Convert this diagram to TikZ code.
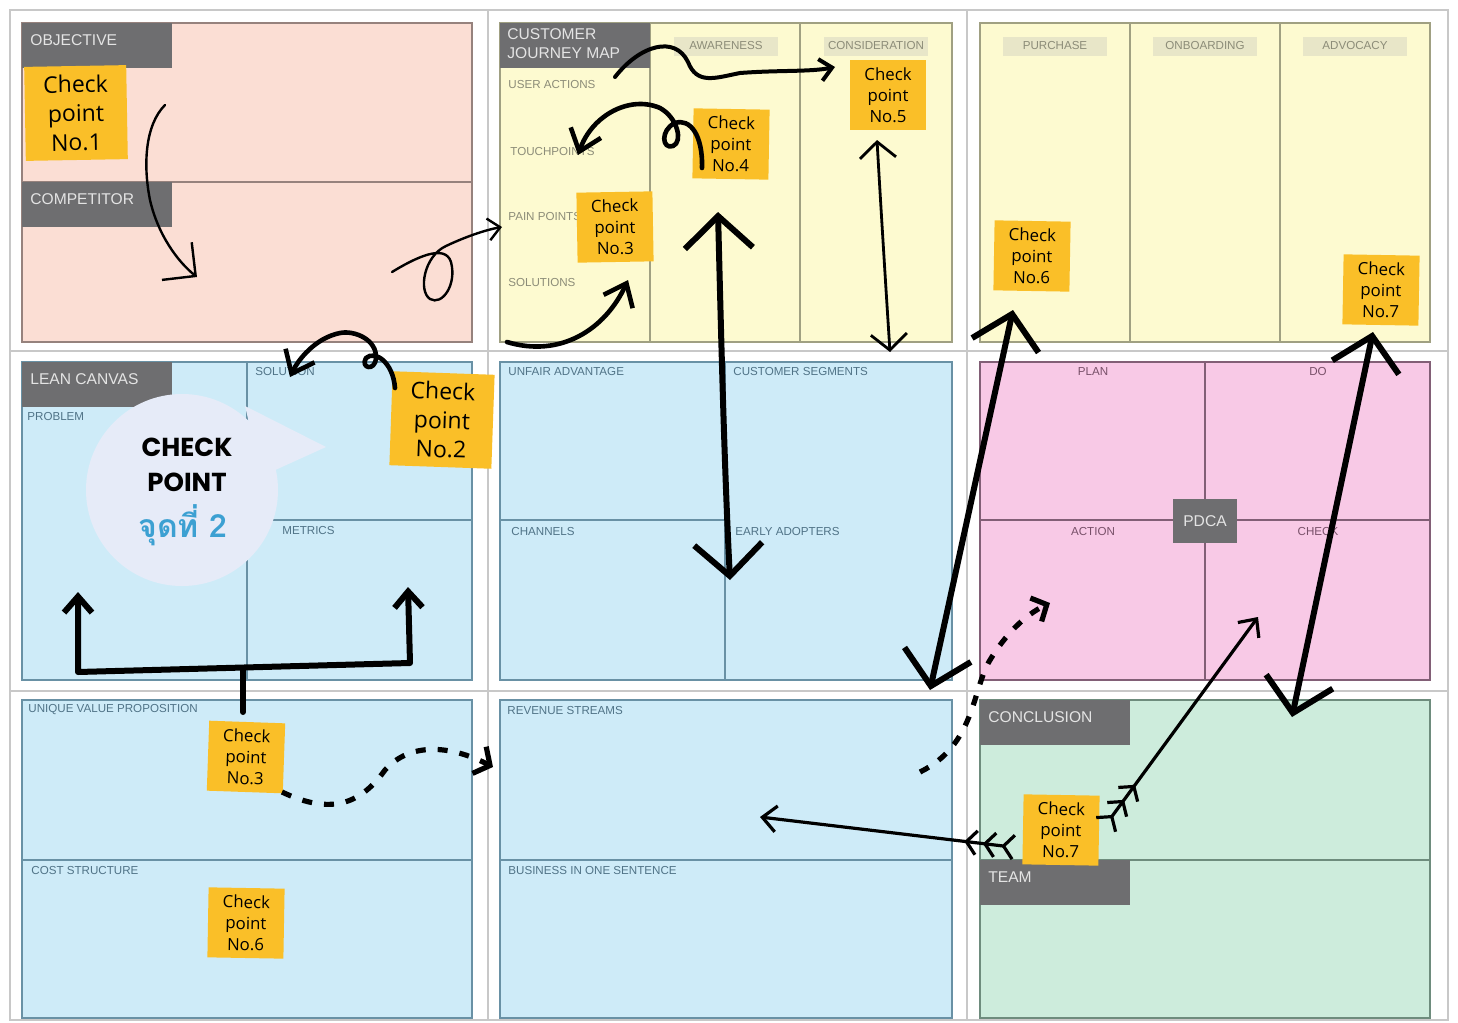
\documentclass[tikz,border=0pt]{standalone}
\usepackage{fontspec}
\setmainfont{Liberation Sans}
\newfontfamily\notefont{Open Sans}
\newfontfamily\handfont{Poppins}
\newfontfamily\thaifont[Script=Thai]{Loma}
\usetikzlibrary{arrows.meta,calc}
\definecolor{GridClr}{RGB}{200,200,200}
\definecolor{ObjClr}{RGB}{251,222,212}
\definecolor{ObjLine}{RGB}{150,130,125}
\definecolor{JrnClr}{RGB}{253,250,208}
\definecolor{JrnLine}{RGB}{160,160,130}
\definecolor{JrnTxt}{RGB}{140,140,120}
\definecolor{PillClr}{RGB}{232,230,200}
\definecolor{LeanClr}{RGB}{206,235,248}
\definecolor{LeanLine}{RGB}{105,145,165}
\definecolor{LeanTxt}{RGB}{80,115,135}
\definecolor{PdcaClr}{RGB}{248,201,230}
\definecolor{PdcaLine}{RGB}{130,95,118}
\definecolor{PdcaTxt}{RGB}{120,80,105}
\definecolor{EndClr}{RGB}{205,236,220}
\definecolor{EndLine}{RGB}{110,140,125}
\definecolor{TagClr}{RGB}{110,110,112}
\definecolor{TagTxt}{RGB}{228,228,228}
\definecolor{NoteClr}{RGB}{250,191,40}
\definecolor{BubbleClr}{RGB}{230,235,248}
\definecolor{ThaiClr}{RGB}{60,160,210}

\begin{document}
\begin{tikzpicture}[x=0.5pt,y=-0.5pt,
  tag/.style={anchor=west,text=TagTxt,inner sep=0pt,font=\fontsize{7.8}{9.5}\selectfont},
  lbl/.style={anchor=west,inner sep=0pt,font=\fontsize{5.8}{6}\selectfont},
  clbl/.style={inner sep=0pt,text=PdcaTxt,font=\fontsize{5.8}{6}\selectfont},
  pill/.style={fill=PillClr,text=JrnTxt,inner sep=0pt,minimum width=52pt,minimum height=9.5pt,font=\fontsize{5.8}{6}\selectfont},
  bignote/.style={fill=NoteClr,align=center,inner sep=0pt,minimum width=51pt,minimum height=47pt,font=\notefont\fontsize{11.5}{14.5}\selectfont},
  note/.style={fill=NoteClr,align=center,inner sep=0pt,minimum width=38pt,minimum height=35pt,font=\notefont\fontsize{8.4}{10.6}\selectfont},
  thinpen/.style={line width=1.2pt,line cap=round,line join=round},
  pen/.style={line width=2.3pt,line cap=round,line join=round},
  bigpen/.style={line width=3pt,line cap=round,line join=round},
  dashpen/.style={line width=2.6pt,dash pattern=on 5pt off 6pt},
  featherpen/.style={line width=1.6pt,line cap=round,line join=round},
  bigtip/.tip={Straight Barb[length=16pt,width=34pt]},
  midtip/.tip={Straight Barb[length=10pt,width=16pt]},
  smalltip/.tip={Straight Barb[length=6pt,width=11pt]},
  fletch/.tip={Straight Barb[reversed,length=5pt,width=12pt,sep=2.5pt]}]

\useasboundingbox (0,0) rectangle (1458,1023);
\fill[white] (0,0) rectangle (1458,1023);

\draw[GridClr,line width=1pt] (10,10) rectangle (1448,1020);
\draw[GridClr,line width=1pt] (488,10) -- (488,1020) (967,10) -- (967,1020);
\draw[GridClr,line width=1pt] (10,351) -- (1448,351) (10,691) -- (1448,691);

\draw[fill=ObjClr,draw=ObjLine,line width=0.7pt] (22,23) rectangle (472,342);
\draw[ObjLine,line width=0.7pt] (22,182) -- (472,182);
\fill[TagClr] (22,23) rectangle (172,68);
\fill[TagClr] (22,182) rectangle (172,227);
\node[tag] (tObj) at (30,40) {OBJECTIVE};
\node[tag] (tComp) at (30,199) {COMPETITOR};

\draw[fill=JrnClr,draw=JrnLine,line width=0.7pt] (500,23) rectangle (952,342);
\draw[JrnLine,line width=0.7pt] (650,23) -- (650,342) (800,23) -- (800,342);
\fill[TagClr] (500,23) rectangle (650,68);
\node[tag,align=left,anchor=north west] (tJrn) at (507,28) {CUSTOMER\\JOURNEY MAP};
\node[lbl,text=JrnTxt] (lUser) at (508,85) {USER ACTIONS};
\node[lbl,text=JrnTxt] (lTouch) at (510,152) {TOUCHPOINTS};
\node[lbl,text=JrnTxt] (lPain) at (508,217) {PAIN POINTS};
\node[lbl,text=JrnTxt] (lSol) at (508,283) {SOLUTIONS};
\node[pill] (hAware) at (726,46) {AWARENESS};
\node[pill] (hCons) at (876,46) {CONSIDERATION};

\draw[fill=JrnClr,draw=JrnLine,line width=0.7pt] (980,23) rectangle (1430,342);
\draw[JrnLine,line width=0.7pt] (1130,23) -- (1130,342) (1280,23) -- (1280,342);
\node[pill] (hPurch) at (1055,46) {PURCHASE};
\node[pill] (hOnb) at (1205,46) {ONBOARDING};
\node[pill] (hAdv) at (1355,46) {ADVOCACY};

\draw[fill=LeanClr,draw=LeanLine,line width=0.7pt] (22,362) rectangle (472,680);
\draw[LeanLine,line width=0.7pt] (247,362) -- (247,680) (247,520) -- (472,520);
\fill[TagClr] (22,362) rectangle (172,407);
\node[tag] (tLean) at (30,379) {LEAN CANVAS};
\node[lbl,text=LeanTxt] (lProb) at (27,417) {PROBLEM};
\node[lbl,text=LeanTxt] (lSolu) at (255,372) {SOLUTION};
\node[lbl,text=LeanTxt] (lMetr) at (282,530) {METRICS};

\draw[fill=LeanClr,draw=LeanLine,line width=0.7pt] (500,362) rectangle (952,680);
\draw[LeanLine,line width=0.7pt] (725,362) -- (725,680) (500,520) -- (725,520);
\node[lbl,text=LeanTxt] (lUnf) at (508,372) {UNFAIR ADVANTAGE};
\node[lbl,text=LeanTxt] (lSeg) at (733,372) {CUSTOMER SEGMENTS};
\node[lbl,text=LeanTxt] (lChan) at (511,531) {CHANNELS};
\node[lbl,text=LeanTxt] (lEarly) at (735,531) {EARLY ADOPTERS};

\draw[fill=PdcaClr,draw=PdcaLine,line width=0.7pt] (980,362) rectangle (1430,680);
\draw[PdcaLine,line width=0.7pt] (1205,362) -- (1205,680) (980,520) -- (1430,520);
\node[clbl] (lPlan) at (1093,372) {PLAN};
\node[clbl] (lDo) at (1318,372) {DO};
\node[clbl] (lAct) at (1093,531) {ACTION};
\node[clbl] (lChk) at (1318,531) {CHECK};
\node[fill=TagClr,text=TagTxt,minimum width=32pt,minimum height=22pt,inner sep=0pt,font=\fontsize{7.8}{9}\selectfont] (pdca) at (1205,521) {PDCA};

\draw[fill=LeanClr,draw=LeanLine,line width=0.7pt] (22,700) rectangle (472,1018);
\draw[LeanLine,line width=0.7pt] (22,860) -- (472,860);
\node[lbl,text=LeanTxt] (lUvp) at (28,710) {UNIQUE VALUE PROPOSITION};
\node[lbl,text=LeanTxt] (lCost) at (31,870) {COST STRUCTURE};

\draw[fill=LeanClr,draw=LeanLine,line width=0.7pt] (500,700) rectangle (952,1018);
\draw[LeanLine,line width=0.7pt] (500,860) -- (952,860);
\node[lbl,text=LeanTxt] (lRev) at (507,710) {REVENUE STREAMS};
\node[lbl,text=LeanTxt] (lBiz) at (508,870) {BUSINESS IN ONE SENTENCE};

\draw[fill=EndClr,draw=EndLine,line width=0.7pt] (980,700) rectangle (1430,1018);
\draw[EndLine,line width=0.7pt] (980,860) -- (1430,860);
\fill[TagClr] (980,700) rectangle (1130,745);
\fill[TagClr] (980,860) rectangle (1130,905);
\node[tag] (tConc) at (988,717) {CONCLUSION};
\node[tag] (tTeam) at (988,877) {TEAM};

\fill[BubbleClr] (182,490) circle[radius=48pt];
\fill[BubbleClr] (245,406) -- (326,447) -- (262,476) -- cycle;
\node[font=\handfont\bfseries\fontsize{13}{16}\selectfont,inner sep=0pt] (bCheck) at (187,447) {CHECK};
\node[font=\handfont\bfseries\fontsize{13}{16}\selectfont,inner sep=0pt] (bPoint) at (187,482) {POINT};
\node[font=\thaifont\bfseries\fontsize{16}{18}\selectfont,text=ThaiClr,inner sep=0pt] (bThai) at (183,525) {จุดที่ 2};

\node[bignote,rotate=1] (cp1) at (76,113) {Check\\point\\No.1};
\node[bignote,rotate=-2] (cp2) at (442,420) {Check\\point\\No.2};
\node[note,rotate=1] (cp3) at (615,227) {Check\\point\\No.3};
\node[note,rotate=-1] (cp4) at (731,144) {Check\\point\\No.4};
\node[note] (cp5) at (888,95) {Check\\point\\No.5};
\node[note,rotate=-1] (cp6) at (1032,256) {Check\\point\\No.6};
\node[note,rotate=-1] (cp7) at (1381,290) {Check\\point\\No.7};
\node[note,rotate=-2] (cp8) at (246,757) {Check\\point\\No.3};
\node[note,rotate=-1] (cp9) at (246,923) {Check\\point\\No.6};
\node[note,rotate=-1] (cp10) at (1061,830) {Check\\point\\No.7};

\coordinate (o1) at (165,105);
\coordinate (o2) at (197,277);
\coordinate (l1) at (392,272);
\coordinate (l2) at (502,227);
\coordinate (s1) at (507,342);
\coordinate (s2) at (628,280);
\coordinate (w1) at (615,77);
\coordinate (w2) at (835,67);
\coordinate (c1) at (702,168);
\coordinate (c2) at (578,155);
\coordinate (v1) at (718,212);
\coordinate (v2) at (730,580);
\coordinate (d1) at (877,140);
\coordinate (d2) at (890,352);
\coordinate (p1) at (1013,310);
\coordinate (p2) at (930,690);
\coordinate (q1) at (1373,332);
\coordinate (q2) at (1292,717);
\coordinate (b1) at (395,388);
\coordinate (b2) at (290,377);
\coordinate (h1) at (282,792);
\coordinate (h2) at (493,767);
\coordinate (k1) at (920,772);
\coordinate (k2) at (1050,603);
\coordinate (m1) at (1020,848);
\coordinate (m2) at (760,817);
\coordinate (n1) at (1102,830);
\coordinate (n2) at (1258,617);

\draw[thinpen,-{Straight Barb[length=12pt,width=24pt]}] (o1) .. controls (145,125) and (143,165) .. (150,200) .. controls (158,235) and (178,262) .. (o2);
\draw[thinpen,-smalltip] (l1) .. controls (415,258) and (445,243) .. (451,262) .. controls (457,285) and (442,306) .. (430,299) .. controls (418,291) and (424,256) .. (446,246) .. controls (465,237) and (485,230) .. (l2);
\draw[pen,-midtip] (s1) .. controls (560,358) and (605,330) .. (s2);
\draw[line width=2pt,line cap=round,-smalltip] (w1) .. controls (640,45) and (675,35) .. (688,62) .. controls (697,85) and (715,78) .. (740,73) .. controls (780,70) and (810,72) .. (w2);
\draw[pen,-midtip] (c1) .. controls (703,135) and (690,118) .. (675,123) .. controls (660,130) and (662,150) .. (673,146) .. controls (683,142) and (678,118) .. (660,108) .. controls (630,95) and (592,115) .. (c2);
\draw[bigpen,bigtip-bigtip] (v1) .. controls (721,330) and (724,460) .. (v2);
\draw[line width=1.4pt,line cap=round,{Straight Barb[length=8pt,width=18pt]}-{Straight Barb[length=8pt,width=18pt]}] (d1) .. controls (881,210) and (886,290) .. (d2);
\draw[bigpen,bigtip-bigtip] (p1) -- (p2);
\draw[bigpen,bigtip-bigtip] (q1) -- (q2);
\draw[pen,-midtip] (b1) .. controls (393,362) and (375,350) .. (366,358) .. controls (360,368) and (375,372) .. (376,358) .. controls (377,340) and (355,330) .. (340,333) .. controls (315,338) and (298,360) .. (b2);
\draw[bigpen,{Straight Barb[length=8pt,width=14pt]}-{Straight Barb[length=8pt,width=14pt]}] (78,592) -- (78,672) -- (410,663) -- (408,587);
\draw[bigpen] (243,670) -- (243,712);
\draw[dashpen,-{Straight Barb[length=6pt,width=15pt]}] (h1) .. controls (330,815) and (360,805) .. (385,770) .. controls (410,742) and (450,745) .. (h2);
\draw[dashpen,-{Straight Barb[length=6pt,width=13pt]}] (k1) .. controls (975,745) and (972,690) .. (990,660) .. controls (1005,635) and (1025,615) .. (k2);
\draw[featherpen,{fletch[] fletch[] fletch[]}-{Straight Barb[length=7pt,width=13pt]}] (m1) -- (m2);
\draw[featherpen,{fletch[] fletch[] fletch[]}-{Straight Barb[length=7pt,width=13pt]}] (n1) -- (n2);

\end{tikzpicture}
\end{document}
